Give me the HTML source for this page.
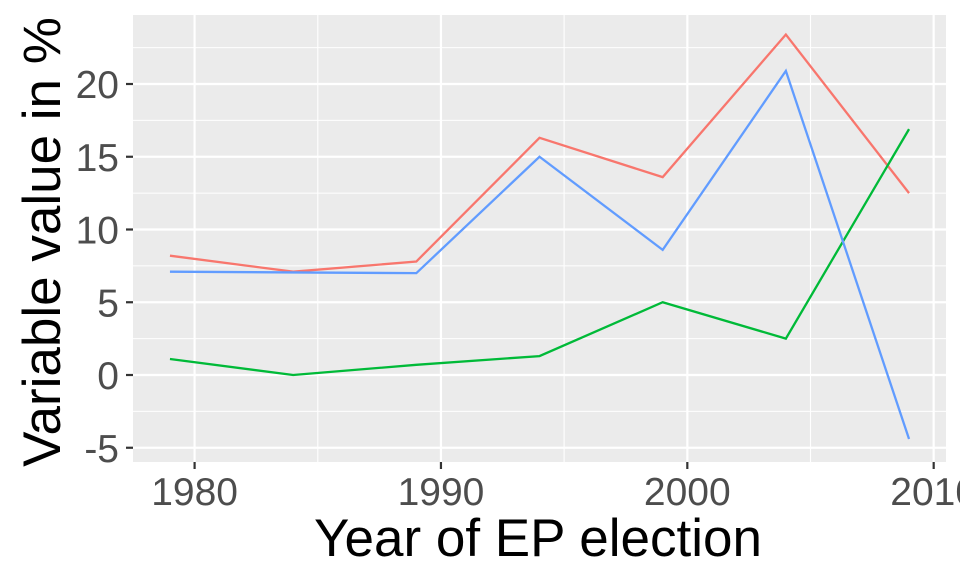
<!DOCTYPE html>
<html><head><meta charset="utf-8"><style>body{margin:0;background:#fff}svg{display:block}</style></head>
<body>
<svg id="chart" width="960" height="576" xmlns="http://www.w3.org/2000/svg" font-family="Liberation Sans, sans-serif"></svg>
<script>
const years = [1979,1984,1989,1994,1999,2004,2009];
const seriesRed = [8.2,7.1,7.8,16.3,13.6,23.4,12.5];
const seriesBlue = [7.1,7.05,7.0,15.0,8.6,20.9,-4.4];
const seriesGreen = [1.1,0.0,0.7,1.3,5.0,2.5,16.9];
const xTicks = [1980,1990,2000,2010];
const yTicks = [-5,0,5,10,15,20];
const NS='http://www.w3.org/2000/svg';
const svg=document.getElementById('chart');
const L=133,R=946,T=15,B=462;
const x=v=>L+(v-1977.5)/(2010.5-1977.5)*(R-L);
const y=v=>375-v*14.55;
function mk(t,a,p){const e=document.createElementNS(NS,t);for(const k in a)e.setAttribute(k,a[k]);(p||svg).appendChild(e);return e;}
const bg=mk('rect',{x:L,y:T,width:R-L,height:B-T,fill:'#ebebeb'});


for(let v=-7.5;v<=25;v+=5){if(y(v)>T&&y(v)<B){const g=mk('line',{x1:L,x2:R,y1:y(v),y2:y(v),stroke:'#fff','stroke-width':1.1});

}}
for(let v=1975;v<=2015;v+=10){if(x(v)>L&&x(v)<R){const g=mk('line',{x1:x(v),x2:x(v),y1:T,y2:B,stroke:'#fff','stroke-width':1.1});

}}
yTicks.forEach(v=>{const g=mk('line',{x1:L,x2:R,y1:y(v),y2:y(v),stroke:'#fff','stroke-width':2.2});


mk('line',{x1:L-7,x2:L,y1:y(v),y2:y(v),stroke:'#333','stroke-width':2.2});
const t=mk('text',{x:L-14,y:y(v)+14,'text-anchor':'end','font-size':39,fill:'#4d4d4d'});t.textContent=v;

});
xTicks.forEach(v=>{const g=mk('line',{x1:x(v),x2:x(v),y1:T,y2:B,stroke:'#fff','stroke-width':2.2});


mk('line',{x1:x(v),x2:x(v),y1:B,y2:B+7,stroke:'#333','stroke-width':2.2});
const t=mk('text',{x:x(v),y:B+43,'text-anchor':'middle','font-size':39,fill:'#4d4d4d'});t.textContent=v;

});
[[seriesRed,'#f8766d','series-red'],[seriesGreen,'#00ba38','series-green'],[seriesBlue,'#619cff','series-blue']].forEach(([d,c,n])=>{
const p=mk('polyline',{points:d.map((v,i)=>x(years[i])+','+y(v)).join(' '),fill:'none',stroke:c,'stroke-width':2.3});

});
const xt=mk('text',{x:538,y:556,'text-anchor':'middle','font-size':53,fill:'#000'});xt.textContent='Year of EP election';


const yt=mk('text',{x:0,y:0,transform:'translate(60,242) rotate(-90)','text-anchor':'middle','font-size':53,fill:'#000'});yt.textContent='Variable value in %';


</script>
</body></html>
